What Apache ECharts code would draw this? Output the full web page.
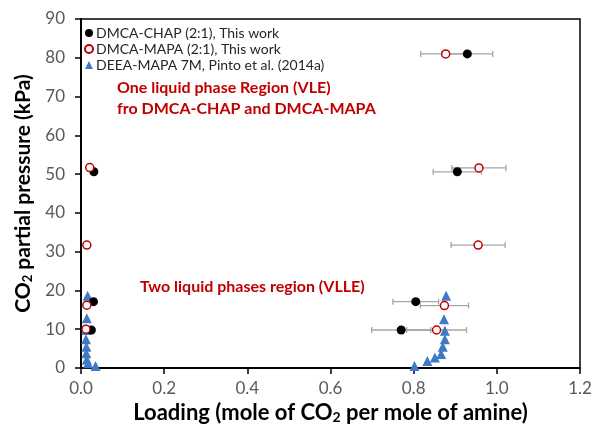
<!DOCTYPE html>
<html>
<head>
<meta charset="utf-8">
<script src="https://cdn.jsdelivr.net/npm/echarts@6/dist/echarts.min.js"></script>
<style>html,body{margin:0;padding:0;background:#fff}#c{width:603px;height:431px}</style>
</head>
<body>
<div id="c"></div>
<script>
// ---- data ----
const seriesNames = ['DMCA-CHAP (2:1), This work', 'DMCA-MAPA (2:1), This work', 'DEEA-MAPA 7M, Pinto et al. (2014a)'];
const chapX   = [0.031, 0.030, 0.025, 0.929, 0.905, 0.805, 0.770];
const chapY   = [50.6, 17.1, 9.8, 81.0, 50.6, 17.1, 9.8];
const chapErr = [0, 0, 0, 0.061, 0.058, 0.055, 0.071];
const mapaX   = [0.021, 0.014, 0.014, 0.012, 0.877, 0.957, 0.955, 0.874, 0.855];
const mapaY   = [51.7, 31.7, 16.2, 10.0, 81.0, 51.6, 31.7, 16.1, 9.8];
const mapaErr = [0, 0, 0, 0, 0.060, 0.065, 0.065, 0.058, 0.072];
const deeaX   = [0.016, 0.014, 0.013, 0.012, 0.013, 0.013, 0.014, 0.017, 0.035, 0.878, 0.873, 0.875, 0.875, 0.870, 0.866, 0.851, 0.833, 0.802];
const deeaY   = [18.6, 12.8, 9.8, 7.4, 5.5, 3.8, 2.2, 1.2, 0.5, 18.6, 12.6, 9.6, 7.4, 5.5, 3.6, 2.7, 1.8, 0.5];
const xTickLabels = ['0.0', '0.2', '0.4', '0.6', '0.8', '1.0', '1.2'];
const yTickLabels = ['0', '10', '20', '30', '40', '50', '60', '70', '80', '90'];
const annVLE = ['One liquid phase Region (VLE)', 'fro DMCA-CHAP and DMCA-MAPA'];
const annVLLE = 'Two liquid phases region (VLLE)';

const FONT = 'Lato';
const RED = '#C00000';
const BLUE = '#3F7AC6';

function zipXY(xs, ys) { return xs.map((x, i) => [x, ys[i]]); }
function errData(xs, ys, es) {
  const out = [];
  xs.forEach((x, i) => { if (es[i] > 0) out.push([x, ys[i], es[i]]); });
  return out;
}
function errRender(params, api) {
  const x = api.value(0), y = api.value(1), e = api.value(2);
  const p1 = api.coord([x - e, y]);
  const p2 = api.coord([x + e, y]);
  const cap = 3;
  const style = { stroke: '#A6A6A6', lineWidth: 1.3 };
  return {
    type: 'group',
    children: [
      { type: 'line', shape: { x1: p1[0], y1: p1[1], x2: p2[0], y2: p2[1] }, style },
      { type: 'line', shape: { x1: p1[0], y1: p1[1] - cap, x2: p1[0], y2: p1[1] + cap }, style },
      { type: 'line', shape: { x1: p2[0], y1: p2[1] - cap, x2: p2[0], y2: p2[1] + cap }, style }
    ]
  };
}

function nameStyle(size) {
  return {
    fontFamily: FONT, fontSize: size, fontWeight: 'bold', color: '#000',
    rich: { sub: { fontFamily: FONT, fontSize: Math.round(size * 0.62), fontWeight: 'bold', color: '#000', padding: [10, 0, 0, 0] } }
  };
}

const chart = echarts.init(document.getElementById('c'), null, { renderer: 'canvas' });
chart.setOption({
  animation: false,
  textStyle: { fontFamily: FONT },
  grid: { left: 81, right: 23, top: 19, bottom: 63, show: true, borderColor: '#000', borderWidth: 1.5, backgroundColor: 'transparent' },
  legend: {
    data: seriesNames,
    orient: 'vertical',
    left: 79, top: 21,
    itemWidth: 8, itemHeight: 8, itemGap: 2,
    textStyle: { fontFamily: FONT, fontSize: 14, color: '#262626', padding: [0, 0, 0, -2] },
    selectedMode: false
  },
  xAxis: {
    type: 'value', min: 0, max: 1.2, interval: 0.2,
    name: 'Loading (mole of CO{sub|2} per mole of amine)',
    nameLocation: 'middle', nameGap: 31,
    nameTextStyle: nameStyle(22),
    axisLine: { show: true, onZero: false, lineStyle: { color: '#000', width: 2 } },
    axisTick: { show: true, inside: false, length: 6, lineStyle: { color: '#000', width: 1.5 } },
    axisLabel: { fontFamily: FONT, fontSize: 17, color: '#595959', margin: 12, formatter: (v) => xTickLabels[Math.round(v / 0.2)] },
    splitLine: { show: false }
  },
  yAxis: {
    type: 'value', min: 0, max: 90, interval: 10,
    name: 'CO{sub|2} partial pressure (kPa)',
    nameLocation: 'middle', nameGap: 40, nameRotate: 90,
    nameTextStyle: nameStyle(21),
    axisLine: { show: true, onZero: false, lineStyle: { color: '#000', width: 2 } },
    axisTick: { show: true, inside: false, length: 6, lineStyle: { color: '#000', width: 1.5 } },
    axisLabel: { fontFamily: FONT, fontSize: 17, color: '#595959', margin: 16, formatter: (v) => yTickLabels[Math.round(v / 10)] },
    splitLine: { show: false }
  },
  graphic: [
    { type: 'text', left: 117, top: 80, style: { text: annVLE[0], font: 'bold 16px ' + FONT, fill: RED } },
    { type: 'text', left: 117, top: 101, style: { text: annVLE[1], font: 'bold 16px ' + FONT, fill: RED } },
    { type: 'text', left: 140, top: 279, style: { text: annVLLE, font: 'bold 16px ' + FONT, fill: RED } }
  ],
  series: [
    { type: 'custom', name: 'errChap', renderItem: errRender, data: errData(chapX, chapY, chapErr), z: 1, silent: true },
    { type: 'custom', name: 'errMapa', renderItem: errRender, data: errData(mapaX, mapaY, mapaErr), z: 1, silent: true },
    {
      type: 'scatter', name: seriesNames[2], data: zipXY(deeaX, deeaY), symbol: 'triangle', symbolSize: 10,
      itemStyle: { color: BLUE, opacity: 1 }, z: 2
    },
    {
      type: 'scatter', name: seriesNames[0], data: zipXY(chapX, chapY), symbol: 'circle', symbolSize: 9,
      itemStyle: { color: '#000', opacity: 1 }, z: 3
    },
    {
      type: 'scatter', name: seriesNames[1], data: zipXY(mapaX, mapaY), symbol: 'circle', symbolSize: 8,
      itemStyle: { color: '#fff', borderColor: RED, borderWidth: 1.5, opacity: 1 }, z: 4
    }
  ]
});
</script>
</body>
</html>
